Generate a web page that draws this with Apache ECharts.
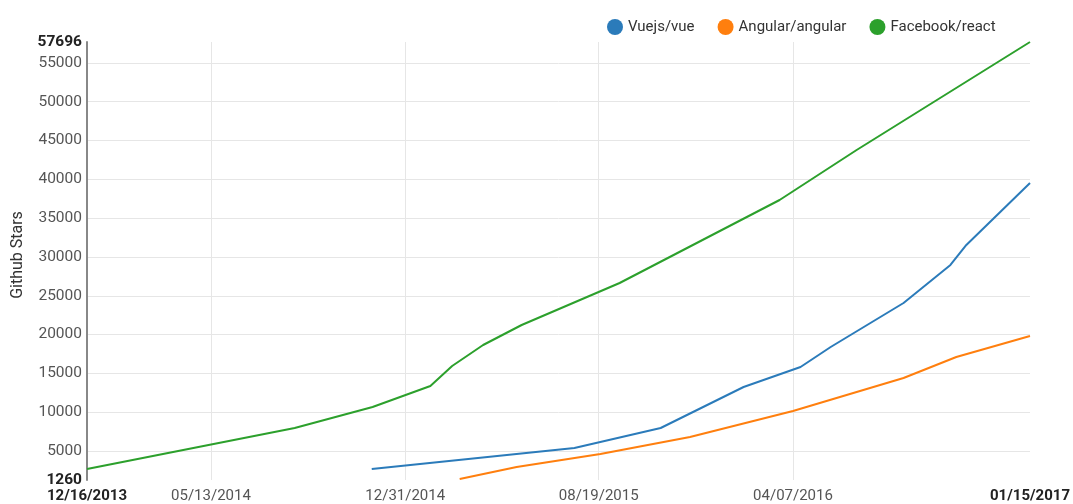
<!DOCTYPE html>
<html>
<head>
<meta charset="utf-8">
<title>Github Stars</title>
<script src="https://cdn.jsdelivr.net/npm/echarts@6/dist/echarts.min.js"></script>
<style>
  html, body { margin: 0; padding: 0; background: #fff; }
  #chart { width: 1073px; height: 504px; }
</style>
</head>
<body>
<div id="chart"></div>
<script>
const xMin = '2013-12-16'
const xMax = '2017-01-15'
const xTickDates = ['2014-05-13', '2014-12-31', '2015-08-19', '2016-04-07']

const yMin = 1260
const yMax = 57696
const yTicks = [5000, 10000, 15000, 20000, 25000, 30000, 35000, 40000, 45000, 50000, 55000]

const vueDates = ['2014-11-21', '2015-07-21', '2015-11-01', '2016-02-08', '2016-04-16', '2016-05-22', '2016-08-17', '2016-10-12', '2016-10-31', '2017-01-15']
const vueStars = [2677, 5383, 7960, 13243, 15820, 18397, 24066, 28963, 31540, 39528]

const angularDates = ['2015-03-06', '2015-05-13', '2015-08-21', '2015-12-06', '2016-04-07', '2016-08-17', '2016-10-19', '2017-01-15']
const angularStars = [1389, 2935, 4610, 6801, 10151, 14403, 17109, 19814]

const reactDates = ['2013-12-16', '2014-08-21', '2014-11-22', '2015-01-30', '2015-02-25', '2015-04-03', '2015-05-19', '2015-09-13', '2016-03-22', '2016-06-22', '2017-01-15']
const reactStars = [2677, 7960, 10666, 13372, 15949, 18655, 21232, 26643, 37338, 43780, 57696]

function toTs(s) {
  const [y, m, d] = s.split('-').map(Number)
  return Date.UTC(y, m - 1, d)
}

function fmtDate(ts) {
  const d = new Date(ts)
  const mm = String(d.getUTCMonth() + 1).padStart(2, '0')
  const dd = String(d.getUTCDate()).padStart(2, '0')
  return mm + '/' + dd + '/' + d.getUTCFullYear()
}

function pairs(dates, values) {
  return dates.map((d, i) => [toTs(d), values[i]])
}

const minTs = toTs(xMin)
const maxTs = toTs(xMax)
const font = 'Roboto, "Noto Sans", sans-serif'

const chart = echarts.init(document.getElementById('chart'))
chart.setOption({
  animation: false,
  backgroundColor: '#fff',
  textStyle: { fontFamily: font },
  legend: {
    left: 602,
    top: 14,
    icon: 'circle',
    itemWidth: 16,
    itemHeight: 16,
    itemGap: 23,
    textStyle: { fontSize: 15, color: '#333', fontFamily: font },
    data: ['Vuejs/vue', 'Angular/angular', 'Facebook/react']
  },
  grid: { left: 87, right: 43, top: 42, bottom: 24, containLabel: false },
  xAxis: {
    type: 'value',
    min: minTs,
    max: maxTs,
    axisLine: { show: false },
    axisTick: { show: false, customValues: xTickDates.map(toTs) },
    splitLine: { show: true, lineStyle: { color: '#e6e6e6', width: 1 } },
    axisLabel: {
      customValues: [minTs].concat(xTickDates.map(toTs), [maxTs]),
      margin: 9,
      fontSize: 15,
      color: '#555',
      fontFamily: font,
      formatter: (v) => (v === minTs || v === maxTs ? '{b|' + fmtDate(v) + '}' : fmtDate(v)),
      rich: { b: { fontWeight: 'bold', fontSize: 15, color: '#222', fontFamily: font } }
    }
  },
  yAxis: {
    type: 'value',
    min: yMin,
    max: yMax,
    name: 'Github Stars',
    nameLocation: 'middle',
    nameGap: 61,
    nameTextStyle: { fontSize: 16, color: '#333', fontFamily: font, padding: [0, 0, 0, 12] },
    axisLine: { show: true, lineStyle: { color: '#888', width: 2 } },
    axisTick: { show: false, customValues: yTicks },
    splitLine: { show: true, lineStyle: { color: '#e6e6e6', width: 1 } },
    axisLabel: {
      customValues: [yMin].concat(yTicks, [yMax]),
      margin: 5,
      fontSize: 15.5,
      color: '#555',
      fontFamily: font,
      formatter: (v) => (v === yMin || v === yMax ? '{b|' + v + '}' : String(v)),
      rich: { b: { fontWeight: 'bold', fontSize: 15.5, color: '#222', fontFamily: font } }
    }
  },
  series: [
    {
      name: 'Vuejs/vue',
      type: 'line',
      showSymbol: false,
      data: pairs(vueDates, vueStars),
      itemStyle: { color: '#2b7bba' },
      lineStyle: { color: '#2b7bba', width: 2 }
    },
    {
      name: 'Angular/angular',
      type: 'line',
      showSymbol: false,
      data: pairs(angularDates, angularStars),
      itemStyle: { color: '#ff7f0e' },
      lineStyle: { color: '#ff7f0e', width: 2 }
    },
    {
      name: 'Facebook/react',
      type: 'line',
      showSymbol: false,
      data: pairs(reactDates, reactStars),
      itemStyle: { color: '#2ca02c' },
      lineStyle: { color: '#2ca02c', width: 2 }
    }
  ]
})
</script>
</body>
</html>
